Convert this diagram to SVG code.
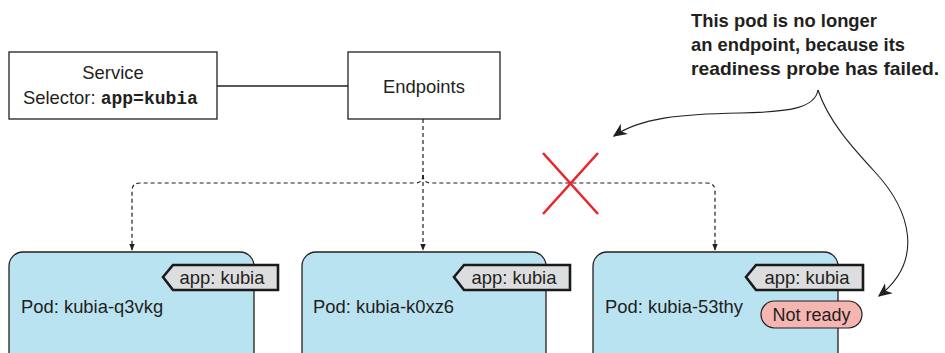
<svg xmlns="http://www.w3.org/2000/svg" width="945" height="353" viewBox="0 0 945 353">
<defs>
<style>
.box{fill:#fff;stroke:#231f20;stroke-width:1.3}
.pod{fill:#bae3f1;stroke:#231f20;stroke-width:1.3}
.tag{fill:#dcdddf;stroke:#1a1a1a;stroke-width:2.6}
.t{font-family:"Liberation Sans",Arial,sans-serif;font-size:18.4px;fill:#231f20}
.mono{font-family:"Liberation Mono","Courier New",monospace;font-weight:bold;font-size:18px}
.dash{fill:none;stroke:#231f20;stroke-width:1.2;stroke-dasharray:4 3}
.note{font-family:"Liberation Sans",Arial,sans-serif;font-weight:bold;font-size:18.4px;fill:#231f20}
.curve{fill:none;stroke:#231f20;stroke-width:1.1}
</style>
<marker id="ah" viewBox="0 0 10 10" refX="9" refY="5" markerWidth="7" markerHeight="7" orient="auto" markerUnits="userSpaceOnUse">
<path d="M0,1 L10,5 L0,9 z" fill="#231f20"/>
</marker>
<marker id="ah2" viewBox="0 0 10 10" refX="9" refY="5" markerWidth="14" markerHeight="14" orient="auto" markerUnits="userSpaceOnUse">
<path d="M0,0.5 L10,5 L0,9.5 L3,5 z" fill="#231f20"/>
</marker>
</defs>
<rect width="945" height="353" fill="#fff"/>
<g id="connectors">
<line x1="217" y1="86" x2="348" y2="86" stroke="#231f20" stroke-width="1.3"/>
<path class="dash" d="M423,119 V250" marker-end="url(#ah)"/>
<path class="dash" d="M423,175 Q423,183 415,183 H140 Q132,183 132,191 V250" marker-end="url(#ah)"/>
<path class="dash" d="M423,175 Q423,183 431,183 H707 Q715,183 715,191 V250" marker-end="url(#ah)"/>
<path class="curve" d="M818,90 C815,108 790,112 740,113 C680,114 640,118 614,136" marker-end="url(#ah2)"/>
<path class="curve" d="M818,90 C828,120 850,145 875,172 C910,210 925,260 879,296" marker-end="url(#ah2)"/>
</g>
<g id="cross" stroke="#e8252b" stroke-width="2.6">
<line x1="543" y1="153" x2="598" y2="214"/>
<line x1="598" y1="153" x2="543" y2="214"/>
</g>
<g id="service">
<rect class="box" x="9" y="52" width="208" height="67"/>
<text class="t" x="113" y="79" text-anchor="middle">Service</text>
<text class="t" x="23" y="104">Selector: <tspan class="mono">app=kubia</tspan></text>
</g>
<g id="endpoints">
<rect class="box" x="348" y="52" width="152" height="67"/>
<text class="t" x="424" y="93" text-anchor="middle">Endpoints</text>
</g>
<g id="pod1">
<rect class="pod" x="9" y="252" width="245" height="120" rx="14"/>
<polygon class="tag" points="163,277 173,265 278,265 278,290 173,290"/>
<text class="t" x="222" y="284" text-anchor="middle">app: kubia</text>
<text class="t" x="21" y="313">Pod: kubia-q3vkg</text>
</g>
<g id="pod2">
<rect class="pod" x="302" y="252" width="244" height="120" rx="14"/>
<polygon class="tag" points="454,277 464,265 570,265 570,290 464,290"/>
<text class="t" x="514" y="284" text-anchor="middle">app: kubia</text>
<text class="t" x="313" y="313">Pod: kubia-k0xz6</text>
</g>
<g id="pod3">
<rect class="pod" x="593" y="252" width="245" height="120" rx="14"/>
<polygon class="tag" points="746,277 756,265 863,265 863,290 756,290"/>
<text class="t" x="807" y="284" text-anchor="middle">app: kubia</text>
<text class="t" x="605" y="313">Pod: kubia-53thy</text>
<rect x="761" y="301" width="101" height="27" rx="13.5" fill="#f5b5b1" stroke="#231f20" stroke-width="1.2"/>
<text class="t" x="811.5" y="321" text-anchor="middle" style="font-size:18px">Not ready</text>
</g>
<g id="note">
<text class="note" x="691" y="27" textLength="186" lengthAdjust="spacingAndGlyphs">This pod is no longer</text>
<text class="note" x="691" y="51" textLength="214" lengthAdjust="spacingAndGlyphs">an endpoint, because its</text>
<text class="note" x="691" y="75" textLength="248" lengthAdjust="spacingAndGlyphs">readiness probe has failed.</text>
</g>
</svg>
